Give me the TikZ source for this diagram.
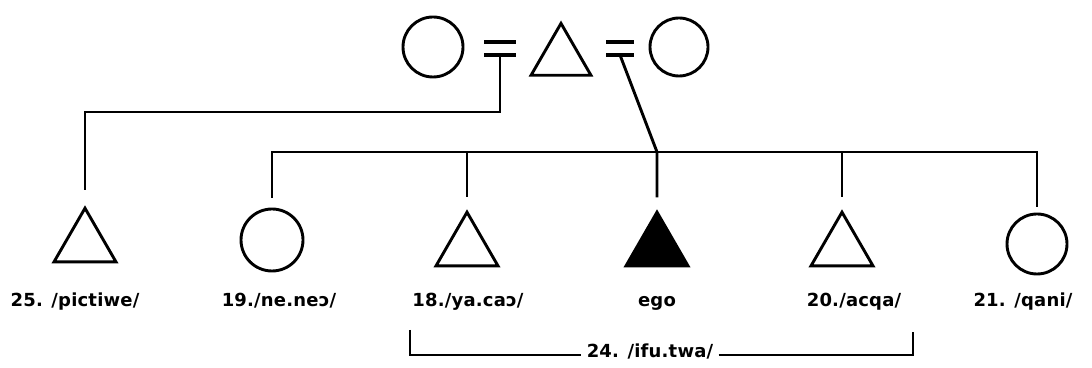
\documentclass[tikz,border=0pt]{standalone}
\usepackage{fontspec}
\newfontfamily\kinfont[LetterSpace=1]{DejaVu Sans}
\usetikzlibrary{positioning, shapes.geometric}

\tikzset{
  female/.style={draw, circle, minimum size=30pt, inner sep=0pt},
  male/.style={draw, regular polygon, regular polygon sides=3, minimum size=35.8pt, inner sep=0pt},
  egonode/.style={male, fill=black},
  kinlabel/.style={font=\kinfont\bfseries\fontsize{9}{10}\selectfont, inner sep=2pt, anchor=base},
  marriage/.style={line width=1.6pt},
}

\begin{document}
\begin{tikzpicture}[x={(0.5pt,0)}, y={(0,-0.5pt)}, line width=1.45pt]
  \useasboundingbox (0,0) rectangle (1092,368);

  % parents
  \node[female] (w1) at (433,47) {};
  \node[male, minimum size=34.6pt] (h) at (561,58) {};
  \node[female, minimum size=29pt] (w2) at (679,47) {};
  \coordinate (m1) at (500,55);
  \coordinate (m2) at (620,55);
  \draw[marriage] ([xshift=-8pt]m1) -- ([xshift=8pt]m1)
    ([shift={(-8pt,6.5pt)}]m1) -- ([shift={(8pt,6.5pt)}]m1);
  \draw[marriage] ([xshift=-7pt]m2) -- ([xshift=7pt]m2)
    ([shift={(-7pt,6.5pt)}]m2) -- ([shift={(7pt,6.5pt)}]m2);

  % children
  \node[male] (k25) at (85,244) {};
  \node[female, minimum size=31pt] (k19) at (272,240) {};
  \node[male] (k18) at (467,248) {};
  \node[egonode] (ego) at (657,248) {};
  \node[male] (k20) at (842,248) {};
  \node[female] (k21) at (1037,244) {};

  \node[kinlabel] (l25) at (75,307) {25. /pictiwe/};
  \node[kinlabel] (l19) at (279,307) {19./ne.neɔ/};
  \node[kinlabel] (l18) at (468,307) {18./ya.caɔ/};
  \node[kinlabel] (lego) at (657,307) {ego};
  \node[kinlabel] (l20) at (854,307) {20./acqa/};
  \node[kinlabel] (l21) at (1023,307) {21. /qani/};

  % lines of descent
  \coordinate (j25) at (85,112);
  \coordinate (sib) at (1037,152);
  \draw (m1) |- (j25) -- ([yshift=7.5pt]k25.north);
  \draw ([yshift=5pt]k19.north) |- (sib) -- ([yshift=3pt]k21.north);
  \draw (k18.north |- sib) -- ([yshift=6pt]k18.north);
  \draw (k20.north |- sib) -- ([yshift=6pt]k20.north);
  \draw (m2) -- (ego.north |- sib) -- ([yshift=6pt]ego.north);

  % bracket
  \node[kinlabel] (l24) at (650,358) {24. /ifu.twa/};
  \coordinate (bl) at (410,330);
  \coordinate (br) at (913,332);
  \draw (bl) |- ([yshift=1.5pt]l24.base west);
  \draw ([yshift=1.5pt]l24.base east) -| (br);
\end{tikzpicture}
\end{document}
